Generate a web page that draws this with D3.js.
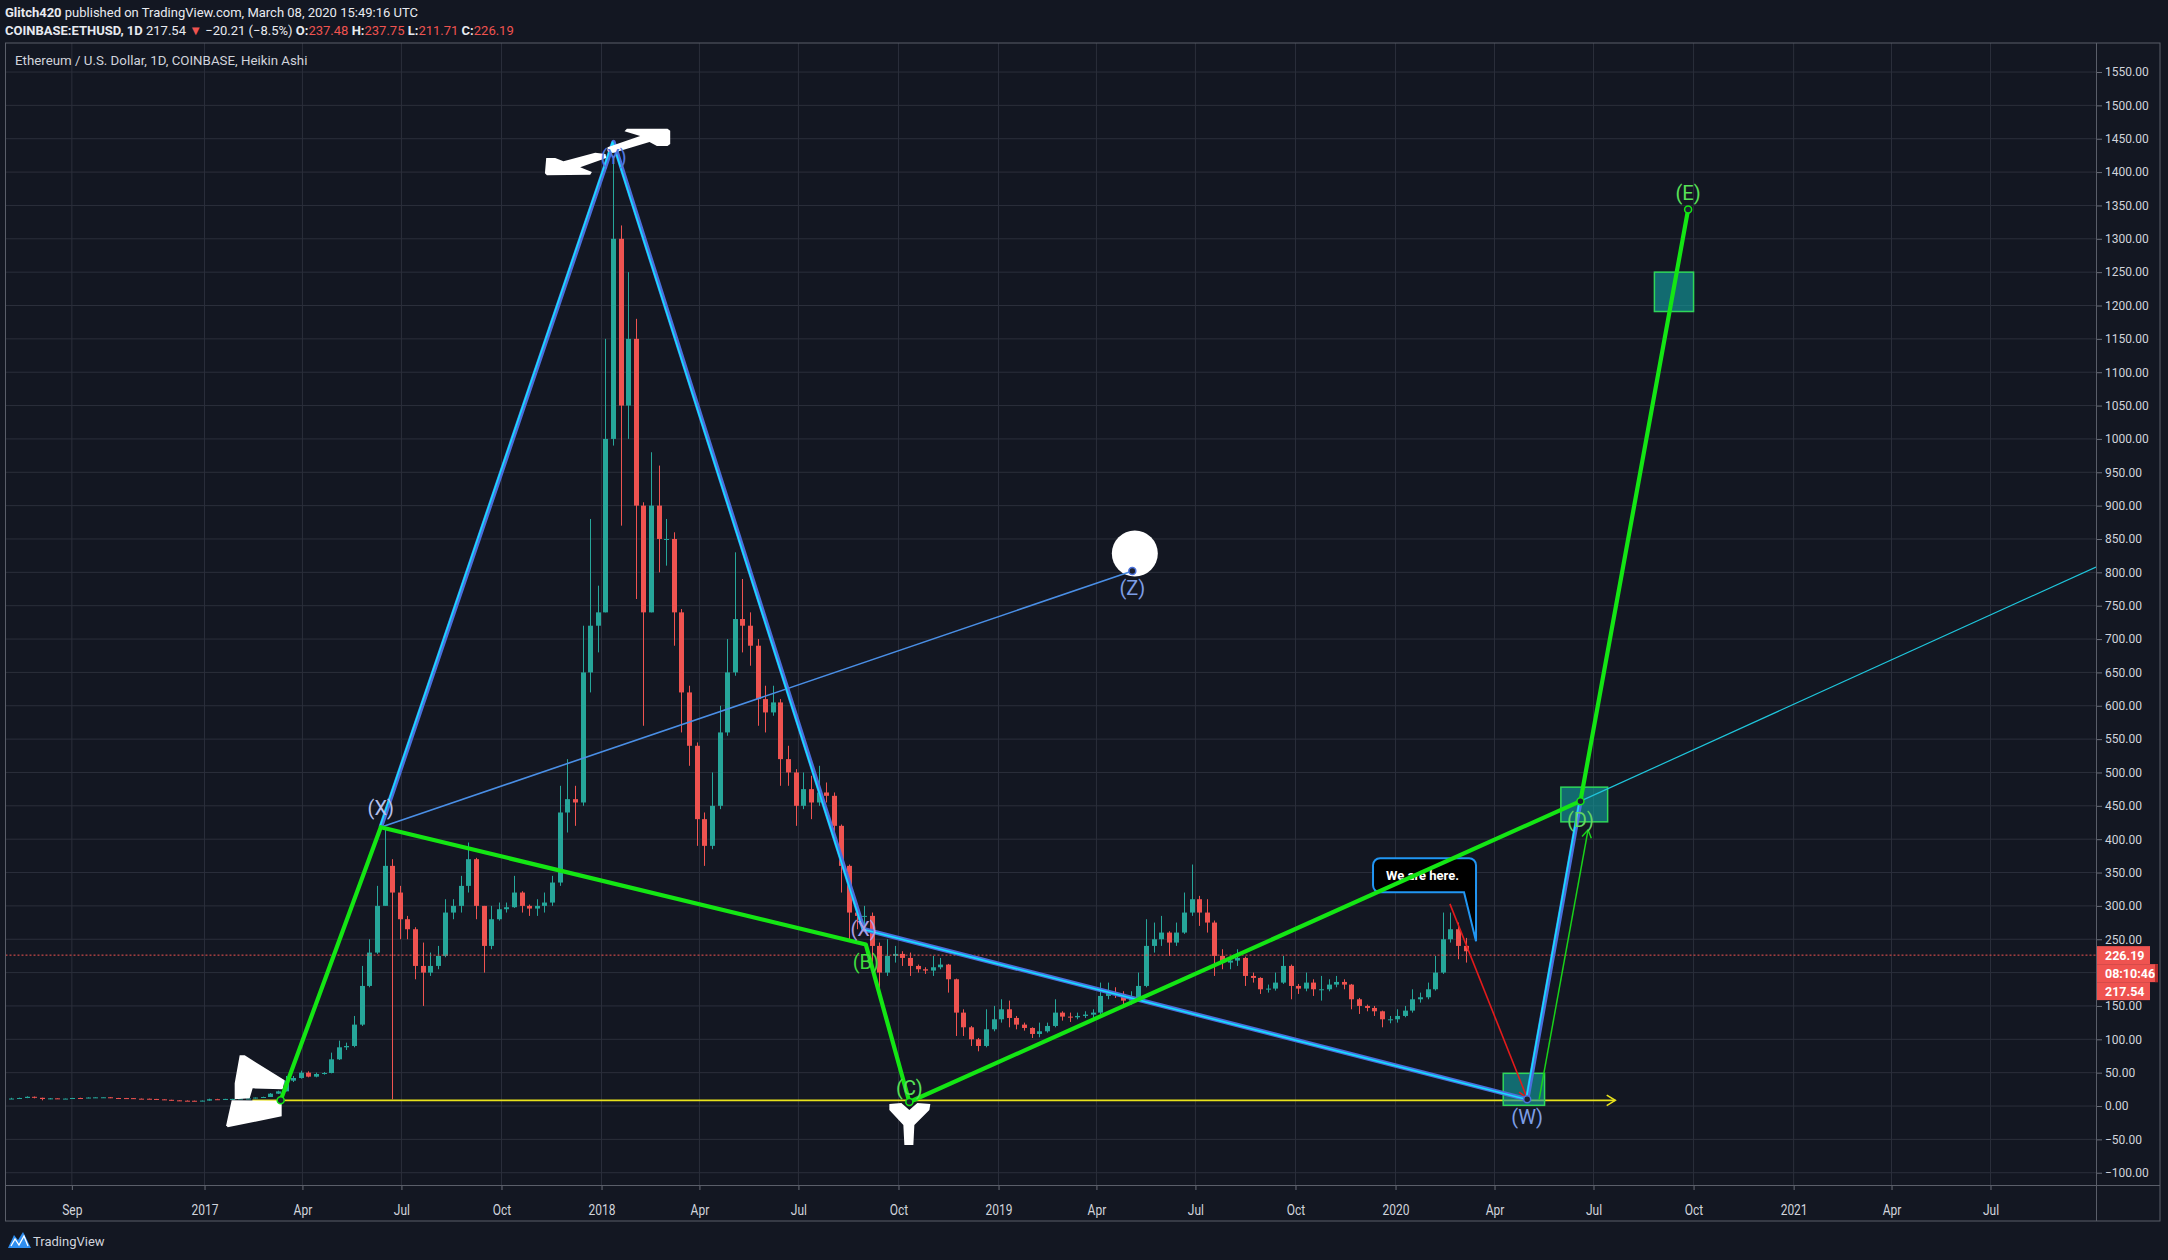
<!DOCTYPE html>
<html><head><meta charset="utf-8">
<script src="https://cdn.jsdelivr.net/npm/d3@7/dist/d3.min.js"></script>
<style>
html,body{margin:0;padding:0;background:#131722;}
svg{display:block;}
text{font-family:Roboto,"Noto Sans",sans-serif;}
</style></head><body>
<svg id="chart" width="2168" height="1260"></svg>
<script>
// ---------------- DATA ----------------
const firstWeek = "2016-07-04"; // weekly Heikin Ashi candles, one per week from this Monday
const haOpen = [11.0,11.2,12.0,13.8,12.3,10.5,11.5,11.0,11.1,12.0,11.8,12.7,13.0,13.1,12.0,11.9,11.8,11.0,10.9,10.6,10.0,9.3,8.5,8.0,7.9,7.3,
 8.1,10.2,9.9,10.6,10.6,11.3,11.3,12.7,13.5,18.5,22,38,42,50,44,48,49.5,70,88,90,122,180,230,300,360,320,280,265,210,200,210,225,290,300,330,370,300,240,280,295,298,320,300,296,300,305,335,440,460,455,650,720,
 740,1000,1300,1050,1150,900,740,900,850,850,740,620,540,430,390,450,560,650,730,720,690,610,590,605,520,500,450,475,455,470,465,420,360,290,285,285,240,200,225,228,222,210,205,203,208,212,190,140,118,100,90,115,130,
 145,132,122,117,108,112,120,140,134,133,135,137,140,165,170,168,158,163,180,240,250,260,245,260,290,310,290,275,225,215,218,222,195,192,175,176,185,210,180,176,185,175,175,182,186,182,160,150,147,142,130,130,
 135,143,160,163,175,200,250,265,240];
const haHigh = [12.3,12.5,14.5,14.2,12.5,12.0,11.6,11.5,12.2,12.4,13.0,13.5,13.3,13.2,12.2,12.1,11.9,11.2,11.1,10.7,10.1,9.4,8.6,8.4,8.1,8.2,
 11.0,10.8,10.8,10.8,11.5,11.5,12.9,14.0,19.5,23,45,45,53,52,50,51,80,98,95,135,210,250,330,415,370,330,285,268,245,230,240,310,310,345,395,372,300,300,305,305,345,322,302,310,320,345,480,520,480,720,880,780,
 1150,1424,1320,1250,1180,905,980,960,880,860,745,630,545,440,500,600,700,830,790,740,700,630,630,610,540,505,500,495,510,485,470,422,362,300,300,290,245,250,240,232,230,212,208,225,222,213,191,145,120,102,145,150,160,
 158,135,125,118,125,125,160,142,140,140,142,145,185,185,178,172,172,200,280,275,285,262,275,320,362,315,310,278,235,225,235,224,200,193,182,200,225,212,183,200,190,195,190,195,190,183,162,152,150,143,135,145,
 150,175,170,185,225,290,290,275,252];
const haLow = [10.4,10.8,11.8,11.5,8.5,10.2,10.7,10.8,11.0,11.5,11.7,12.5,12.6,11.8,11.5,11.6,10.8,10.5,10.4,9.8,9.2,8.3,7.6,7.5,7.2,7.2,
 8.0,9.6,9.7,10.4,10.5,10.9,11.2,12.3,13.5,18,22,36,41,43,43,47,49,69,84,88,120,178,228,300,10,250,250,190,150,195,205,223,280,290,320,280,200,235,278,290,297,290,285,285,290,300,330,410,420,450,620,680,
 740,990,870,1000,760,570,740,800,810,690,560,510,390,360,385,445,555,645,680,660,570,560,585,480,480,420,445,430,450,455,400,320,250,265,270,200,165,195,215,210,195,200,198,195,205,170,105,105,90,82,88,112,125,
 118,115,113,102,103,110,118,128,126,130,132,132,138,160,162,148,152,160,178,230,240,225,240,258,285,270,260,195,205,205,210,180,185,168,170,173,183,160,168,172,165,158,172,178,175,145,138,142,135,118,124,125,
 133,140,155,160,173,198,245,220,215];
const haClose = [11.2,12.0,13.8,12.3,10.5,11.5,11.0,11.1,12.0,11.8,12.7,13.0,13.1,12.0,11.9,11.8,11.0,10.9,10.6,10.0,9.3,8.5,8.0,7.9,7.3,8.1,
 10.2,9.9,10.6,10.6,11.3,11.3,12.7,13.5,18.5,22,38,42,50,44,48,49.5,70,88,90,122,180,230,300,360,320,280,265,210,200,210,225,290,300,330,370,300,240,280,295,298,320,300,296,300,305,335,440,460,455,650,720,740,
 1000,1300,1050,1150,900,740,900,850,850,740,620,540,430,390,450,560,650,730,720,690,610,590,605,520,500,450,475,455,470,465,420,360,290,285,285,240,200,225,228,222,210,205,203,208,212,190,140,118,100,90,115,130,145,
 132,122,117,108,112,120,140,134,133,135,137,140,165,170,168,158,163,180,240,250,260,245,260,290,310,290,275,225,215,218,222,195,192,175,176,185,210,180,176,185,175,175,182,186,182,160,150,147,142,130,130,135,
 143,160,163,175,200,250,265,240,232];

const yTickValues = [-100,-50,0,50,100,150,200,250,300,350,400,450,500,550,600,650,700,750,800,850,900,950,1000,1050,1100,1150,1200,1250,1300,1350,1400,1450,1500,1550];
const yHiddenLabels = [200]; // covered by the price boxes in the original
const xTickDates = ["2016-09-01","2017-01-01","2017-04-01","2017-07-01","2017-10-01","2018-01-01","2018-04-01","2018-07-01","2018-10-01","2019-01-01","2019-04-01","2019-07-01","2019-10-01","2020-01-01","2020-04-01","2020-07-01","2020-10-01","2021-01-01","2021-04-01","2021-07-01"];
const xTickLabels = ["Sep","2017","Apr","Jul","Oct","2018","Apr","Jul","Oct","2019","Apr","Jul","Oct","2020","Apr","Jul","Oct","2021","Apr","Jul"];

// wave pivots
const pivotNames  = ["O","X1","Y","X2","B","C","Z","W","D","E"];
const pivotDates  = ["2017-03-12","2017-06-12","2018-01-12","2018-08-30","2018-09-01","2018-10-11","2019-05-04","2020-05-01","2020-06-19","2020-09-26"];
const pivotValues = [8.5,418,1445,265,242,6,802,10,457,1344];
const greenPath = ["O","X1","B","C","D","E"];
const bluePath  = ["X1","Y","X2","W","D"];

// extra drawn lines: [date1, value1, date2, value2]
const rayLine    = ["2020-06-19",457,"2021-10-06",808];
const redLine    = ["2020-02-20",303,"2020-05-01",12];
const thinGreen  = ["2020-05-12",10,"2020-06-26",414];
const yellowLine = ["2017-02-14",8.5,"2020-07-21",8.5];

// target boxes
const boxStart  = ["2020-04-09","2020-06-01","2020-08-26"];
const boxEnd    = ["2020-05-17","2020-07-14","2020-10-01"];
const boxTop    = [49,478,1250];
const boxBottom = [1,426,1191];

// wave labels
const labelText  = ["(X)","(Y)","(X)","(B)","(C)","(Z)","(W)","(D)","(E)"];
const labelPivot = ["X1","Y","X2","B","C","Z","W","D","E"];

const lastClose = 226.19, lastPrice = 217.54;
const calloutDate = "2020-03-15", calloutValue = 247;

// ---------------- CHART ----------------
const svg = d3.select("#chart");
const L = 5.5, R = 2096, T = 43, B = 1185, AX = 2160, AB = 1221;
const bg = "#131722", grid = "#2b2f3b", frame = "#5a5e69", txt = "#d1d4dc";
const up = "#26a69a", down = "#ef5350";

const x = d3.scaleUtc().domain([new Date("2016-07-02"), new Date("2021-10-06")]).range([L, R]);
const y = d3.scaleLinear().domain([-118.4, 1593.5]).range([B, T]);
const D = s => new Date(s);
const pIdx = n => pivotNames.indexOf(n);
const px = n => x(D(pivotDates[pIdx(n)]));
const py = n => y(pivotValues[pIdx(n)]);

svg.append("rect").attr("width",2168).attr("height",1260).attr("fill",bg);
svg.append("defs").append("clipPath").attr("id","clip").append("rect")
  .attr("x",L).attr("y",T).attr("width",R-L).attr("height",B-T);

// grid
const gg = svg.append("g");
gg.selectAll("line.h").data(yTickValues).join("line")
  .attr("x1",L).attr("x2",R).attr("y1",d=>y(d)).attr("y2",d=>y(d)).attr("stroke",grid).attr("stroke-width",1);
gg.selectAll("line.v").data(xTickDates).join("line")
  .attr("x1",d=>x(D(d))).attr("x2",d=>x(D(d))).attr("y1",T).attr("y2",B).attr("stroke",grid).attr("stroke-width",1);

const plot = svg.append("g").attr("clip-path","url(#clip)");

// candles
const day = 86400000;
const w0 = D(firstWeek).getTime();
const candles = haClose.map((c,i)=>({t:new Date(w0 + i*7*day + 3.5*day), o:haOpen[i], h:haHigh[i], l:haLow[i], c:c}));
const cg = plot.append("g");
cg.selectAll("line").data(candles).join("line")
  .attr("x1",d=>Math.round(x(d.t))+0.5).attr("x2",d=>Math.round(x(d.t))+0.5)
  .attr("y1",d=>y(d.h)).attr("y2",d=>y(d.l))
  .attr("stroke",d=>d.c>=d.o?up:down).attr("stroke-width",1);
cg.selectAll("rect").data(candles).join("rect")
  .attr("x",d=>Math.round(x(d.t))-2).attr("width",5)
  .attr("y",d=>y(Math.max(d.o,d.c))).attr("height",d=>Math.max(1,Math.abs(y(d.o)-y(d.c))))
  .attr("fill",d=>d.c>=d.o?up:down);

// last price dashed line
plot.append("line").attr("x1",L).attr("x2",R).attr("y1",y(lastClose)).attr("y2",y(lastClose))
  .attr("stroke",down).attr("stroke-width",1).attr("stroke-dasharray","2,2");

function arrowHead(g,x1,y1,x2,y2,color,len,width){
  const a = Math.atan2(y2-y1,x2-x1);
  const p = [[x2-len*Math.cos(a-0.55), y2-len*Math.sin(a-0.55)],[x2,y2],[x2-len*Math.cos(a+0.55), y2-len*Math.sin(a+0.55)]];
  g.append("path").attr("d",d3.line()(p)).attr("fill","none").attr("stroke",color).attr("stroke-width",width);
}
function seg(g,arr,color,width){
  g.append("line").attr("x1",x(D(arr[0]))).attr("y1",y(arr[1])).attr("x2",x(D(arr[2]))).attr("y2",y(arr[3]))
   .attr("stroke",color).attr("stroke-width",width);
}

// yellow line
seg(plot,yellowLine,"#e8e21c",1.6);
arrowHead(plot,x(D(yellowLine[0])),y(yellowLine[1]),x(D(yellowLine[2])),y(yellowLine[3]),"#e8e21c",10,1.6);

// boxes
const bx = plot.append("g");
boxStart.forEach((s,i)=>{
  bx.append("rect").attr("x",x(D(s))).attr("y",y(boxTop[i]))
    .attr("width",x(D(boxEnd[i]))-x(D(s))).attr("height",y(boxBottom[i])-y(boxTop[i]))
    .attr("fill","rgba(18,160,160,0.62)").attr("stroke","#2fd65a").attr("stroke-width",1.5);
});

// white sticker near origin
const oX = px("O"), oY = py("O");
const stickTop = [[-46,-17],[-41,-45],[-36,-45],[4,-20],[2,-11],[-28,-12],[-31,-2],[-46,-1]];
const stickBot = [[-49,0],[1,0.5],[1,16],[-53,27],[-54.5,25]];
[stickTop,stickBot].forEach(p=>{
  svg.append("path").attr("d",d3.line()(p.map(q=>[oX+q[0],oY+q[1]]))+"Z").attr("fill","#ffffff");
});

// callout
const tx = x(D(calloutDate)), ty = y(calloutValue);
const cl = tx-103, cr = tx, ct = ty-83, cb = ty-49, r = 7;
const cpath = `M${cl+r},${ct} H${cr-r} A${r},${r} 0 0 1 ${cr},${ct+r} V${cb+6} L${tx},${ty} L${cr-12},${cb} H${cl+r} A${r},${r} 0 0 1 ${cl},${cb-r} V${ct+r} A${r},${r} 0 0 1 ${cl+r},${ct} Z`;
svg.append("path").attr("d",cpath).attr("fill","#000000").attr("stroke","#2196f3").attr("stroke-width",2);
svg.append("text").attr("x",(cl+cr)/2-2).attr("y",(ct+cb)/2+4.5).attr("text-anchor","middle")
  .attr("fill","#ffffff").attr("font-size",13).attr("font-weight","bold").text("We are here.");

// Z white circle
svg.append("circle").attr("cx",px("Z")+2.5).attr("cy",py("Z")-17.5).attr("r",23).attr("fill","#ffffff");

// thin lines
const lg = svg.append("g").attr("clip-path","url(#clip)");
seg(lg,[pivotDates[pIdx("X1")],pivotValues[pIdx("X1")],pivotDates[pIdx("Z")],pivotValues[pIdx("Z")]],"#4a8fe6",1.6);
seg(lg,rayLine,"#1fc6dc",1.2);
seg(lg,redLine,"#e31b1b",1.6);
arrowHead(lg,x(D(redLine[0])),y(redLine[1]),x(D(redLine[2])),y(redLine[3]),"#e31b1b",10,1.6);
seg(lg,thinGreen,"#19d219",1.5);
arrowHead(lg,x(D(thinGreen[0])),y(thinGreen[1]),x(D(thinGreen[2])),y(thinGreen[3]),"#19d219",9,1.5);

// blue double lines
const bl = d3.line().x(n=>px(n)).y(n=>py(n));
lg.append("path").attr("d",bl(bluePath)).attr("fill","none").attr("stroke","#4a6fdc").attr("stroke-width",4.5).attr("stroke-linejoin","round");
lg.append("path").attr("d",bl(bluePath)).attr("fill","none").attr("stroke","#14e0ff").attr("stroke-width",1.6)
  .attr("transform","translate(-1,0)").attr("stroke-linejoin","round");

// green thick lines
lg.append("path").attr("d",bl(greenPath)).attr("fill","none").attr("stroke","#14e614").attr("stroke-width",4.2).attr("stroke-linejoin","round");

// pivot markers
[["O","#14e614"],["C","#14e614"],["E","#14e614"],["D","#14e614"],["W","#4a72dc"],["Z","#4a72dc"]].forEach(m=>{
  svg.append("circle").attr("cx",px(m[0])).attr("cy",py(m[0])).attr("r",3.5).attr("fill","#1c2030").attr("stroke",m[1]).attr("stroke-width",1.5);
});

// white arrows near the top
const yX = px("Y"), yY = py("Y");
const arrR = [[-6,5.3],[26.7,-6],[11,-10.7],[13.4,-13.4],[54,-13.4],[56.7,-11.4],[56.7,2],[54,4],[43.4,4],[36,0],[-0.6,11],[-6,9.3]];
const arrL = [[-67.3,16],[-58.3,16],[-50,19.3],[-18.3,10.6],[-8,12],[-7.3,16],[-33.3,25.3],[-21.6,30],[-23.3,32.6],[-66.6,33.3],[-68.6,31.3]];
[arrR,arrL].forEach(p=>{
  svg.append("path").attr("d",d3.line()(p.map(q=>[yX+q[0],yY+q[1]]))+"Z").attr("fill","#ffffff");
});

// sticker below C
const cX = px("C"), cY = py("C");
const stickC = [[-20,2],[-8,1],[0,8],[8,1],[21,2],[20,8],[5,23],[4,43],[-5,43],[-6,23],[-20,8]];
svg.append("path").attr("d",d3.line()(stickC.map(q=>[cX+q[0],cY+q[1]]))+"Z").attr("fill","#ffffff");

// wave labels
const labelColor = {"X1":"#b4c0ee","Y":"#5079e0","X2":"#ab9fe4","B":"#3fdc3f","C":"#58e058","Z":"#7d9ee6","W":"#7d9ee6","D":"#62d662","E":"#58e058"};
const labelDy = {"X1":-19,"Y":15,"X2":0,"B":17,"C":-14,"Z":17,"W":18,"D":19,"E":-16};
labelText.forEach((t,i)=>{
  const n = labelPivot[i];
  svg.append("text").attr("x",px(n)).attr("y",py(n)+labelDy[n]).attr("text-anchor","middle")
    .attr("dominant-baseline","central").attr("font-size",20).attr("fill",labelColor[n]).text(t);
});

// ---------------- AXES ----------------
const fmt = d3.format(".2f");
const yAxis = svg.append("g").attr("transform",`translate(${R+1},0)`)
  .call(d3.axisRight(y).tickValues(yTickValues).tickSize(5).tickPadding(3)
    .tickFormat(d=>yHiddenLabels.includes(d)?"":fmt(d)));
yAxis.select(".domain").remove();
yAxis.selectAll("line").attr("stroke","#6a6e79");
yAxis.selectAll("text").attr("fill",txt).attr("font-size",12).attr("font-family","Roboto, sans-serif");

const xAxis = svg.append("g").attr("transform",`translate(0,${B})`)
  .call(d3.axisBottom(x).tickValues(xTickDates.map(D)).tickSize(5).tickPadding(14).tickFormat((d,i)=>xTickLabels[i]));
xAxis.select(".domain").remove();
xAxis.selectAll("line").attr("stroke","#6a6e79");
xAxis.selectAll("text").attr("fill",txt).attr("font-size",15).attr("font-family","Roboto, sans-serif")
  .attr("transform","scale(0.8,1)");

// frame
const fr = svg.append("g").attr("fill","none").attr("stroke",frame).attr("stroke-width",1);
fr.append("rect").attr("x",L).attr("y",T).attr("width",AX-L).attr("height",AB-T);
fr.append("line").attr("x1",R+0.5).attr("x2",R+0.5).attr("y1",T).attr("y2",AB);
fr.append("line").attr("x1",L).attr("x2",AX).attr("y1",B+0.5).attr("y2",B+0.5);

// price boxes
const pb = svg.append("g");
const by0 = y(lastClose);
[[lastClose.toFixed(2),by0,53],["08:10:46",by0+18,61],[lastPrice.toFixed(2),by0+36,53]].forEach(b=>{
  pb.append("rect").attr("x",R+1).attr("y",b[1]-9).attr("width",b[2]).attr("height",18).attr("fill",down);
  pb.append("text").attr("x",R+9).attr("y",b[1]+4.5).attr("fill","#ffffff").attr("font-size",12.5)
    .attr("font-weight","bold").text(b[0]);
});
pb.append("rect").attr("x",R+59).attr("y",by0+9).attr("width",3).attr("height",18).attr("fill","#b02a2a");

// header texts
const h1 = svg.append("text").attr("x",5).attr("y",17).attr("font-size",13).attr("fill","#e8eaf0");
h1.append("tspan").attr("font-weight","bold").text("Glitch420");
h1.append("tspan").text(" published on TradingView.com, March 08, 2020 15:49:16 UTC");
const h2 = svg.append("text").attr("x",5).attr("y",35).attr("font-size",13).attr("fill","#e8eaf0");
h2.append("tspan").attr("font-weight","bold").text("COINBASE:ETHUSD, 1D");
h2.append("tspan").text("  217.54 ");
h2.append("tspan").attr("fill",down).text("▼");
h2.append("tspan").text(" −20.21 (−8.5%) ");
[["O:","237.48"],[" H:","237.75"],[" L:","211.71"],[" C:","226.19"]].forEach(p=>{
  h2.append("tspan").attr("font-weight","bold").text(p[0]);
  h2.append("tspan").attr("fill",down).text(p[1]);
});
svg.append("text").attr("x",15).attr("y",65).attr("font-size",13.3).attr("fill",txt)
  .text("Ethereum / U.S. Dollar, 1D, COINBASE, Heikin Ashi");

// TradingView logo
const lgo = svg.append("g");
lgo.append("path").attr("d","M8,1248 L14,1235 L18,1240 L23,1232 L31,1248 Z").attr("fill","#2f8ef0");
lgo.append("path").attr("d","M11,1246 L15,1239 L19,1245 L24,1236 L28,1246").attr("fill","none").attr("stroke","#ffffff").attr("stroke-width",1.3);
lgo.append("text").attr("x",33).attr("y",1246).attr("font-size",13).attr("fill",txt).text("TradingView");
</script>
</body></html>
